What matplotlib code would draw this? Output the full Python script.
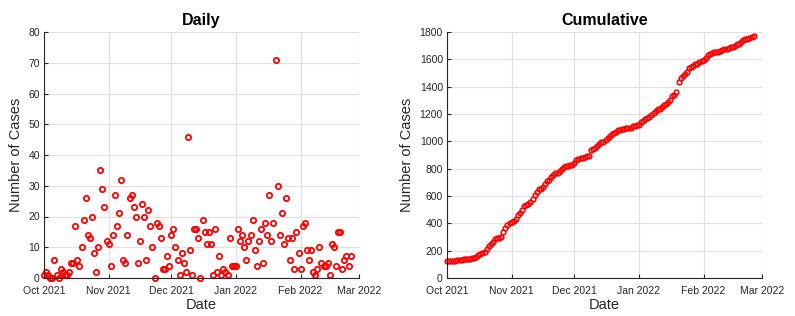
import numpy as np
import pandas as pd
import matplotlib
matplotlib.use('Agg')
import matplotlib.pyplot as plt
import matplotlib.dates as mdates

# daily case counts, one per day starting 1 Oct 2021
daily_oct = [1, 2, 1, 0, 0, 6, 1, 0, 3, 2, 1, 1, 2, 5, 5, 17, 6, 4, 10, 19,
             26, 14, 13, 20, 8, 2, 10, 35, 29, 23, 12]
daily_nov = [11, 4, 14, 27, 17, 21, 32, 6, 5, 14, 26, 27, 23, 20, 5, 12, 24, 20,
             6, 22, 17, 10, 0, 18, 17, 13, 3, 3, 7, 4]
daily_dec = [14, 16, 10, 6, 1, 8, 5, 2, 46, 9, 1, 16, 16, 13, 0, 19, 15, 11, 15,
             11, 1, 16, 2, 7, 1, 3, 2, 1, 13, 4, 4]
daily_jan = [4, 16, 12, 14, 10, 6, 12, 14, 19, 9, 4, 12, 16, 5, 18, 14, 27, 12,
             18, 71, 30, 14, 21, 11, 26, 13, 6, 13, 3, 15, 8]
daily_feb = [3, 17, 18, 9, 6, 9, 2, 1, 3, 10, 5, 4, 4, 5, 1, 11, 10, 4, 15, 15,
             3, 6, 7, 4, 7]
start_date = '2021-10-01'
prior_total = 124  # cases before 1 Oct 2021

month_ticks = ['2021-10-01', '2021-11-01', '2021-12-01', '2022-01-01',
               '2022-02-01', '2022-03-01']

daily = np.array(daily_oct + daily_nov + daily_dec + daily_jan + daily_feb)
dates = pd.date_range(start_date, periods=len(daily), freq='D')
cumulative = prior_total + np.cumsum(daily)

plt.rcParams['font.family'] = ['Liberation Sans', 'DejaVu Sans']
axis_col = '#262626'
red = '#ff0000'

fig = plt.figure(figsize=(7.95, 3.16), dpi=100)
ax1 = fig.add_axes([44 / 795, 38 / 316, 315 / 795, 246 / 316])
ax2 = fig.add_axes([447 / 795, 38 / 316, 315 / 795, 246 / 316])


def style_axes(ax, ylim, yticks, title):
    ticks = pd.to_datetime(month_ticks)
    ax.set_xlim(ticks[0], ticks[-1])
    ax.set_xticks(ticks)
    ax.xaxis.set_major_formatter(mdates.DateFormatter('%b %Y'))
    ax.set_ylim(ylim)
    ax.set_yticks(yticks)
    ax.grid(True, color='#e1e1e1', linewidth=0.9)
    ax.set_axisbelow(True)
    for side in ['top', 'right']:
        ax.spines[side].set_visible(False)
    for side in ['left', 'bottom']:
        ax.spines[side].set_color(axis_col)
        ax.spines[side].set_linewidth(0.8)
    ax.tick_params(direction='in', length=3, width=0.8, colors=axis_col,
                   labelsize=7.5, pad=3)
    ax.tick_params(axis='x', pad=6)
    ax.set_xlabel('Date', fontsize=10.5, color=axis_col, labelpad=1)
    ax.set_ylabel('Number of Cases', fontsize=10.5, color=axis_col, labelpad=4)
    ax.set_title(title, fontsize=11.5, fontweight='bold', pad=5)


# ****daily plot*****
ax1.plot(dates, daily, 'o', markerfacecolor='none', markeredgecolor=red,
         markersize=3.8, markeredgewidth=1.3, clip_on=False)
style_axes(ax1, (0, 80), range(0, 81, 10), 'Daily')

# ****cumulative plot*****
ax2.plot(dates, cumulative, 'o', markerfacecolor='none', markeredgecolor=red,
         markersize=3.4, markeredgewidth=1.1, clip_on=False)
style_axes(ax2, (0, 1800), range(0, 1801, 200), 'Cumulative')

plt.savefig('out.png', dpi=100)
